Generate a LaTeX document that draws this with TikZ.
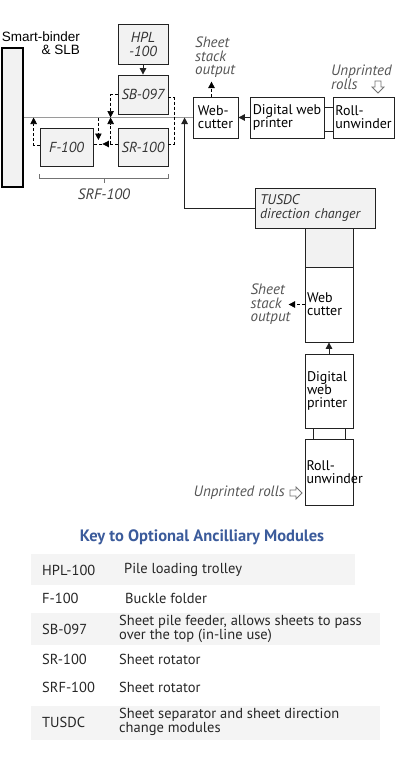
\documentclass[tikz,border=0pt]{standalone}
\usepackage{fontspec}
\setmainfont{PT Sans}
\newfontfamily\arialf{Liberation Sans}
\usepackage{tikz}
\usetikzlibrary{positioning,calc,arrows.meta}
\definecolor{boxc}{HTML}{F2F2F2}
\definecolor{linec}{HTML}{222222}
\definecolor{mainc}{HTML}{9A9A9A}
\definecolor{notec}{HTML}{555555}
\definecolor{bandc}{HTML}{F4F4F4}
\definecolor{keyc}{HTML}{3B5B9B}

\begin{document}
\begin{tikzpicture}[x=1pt, y=-1pt, font=\fontsize{14}{13}\selectfont,
  mod/.style={draw=linec, line width=0.8pt, inner sep=0pt, align=left},
  gmod/.style={mod, fill=boxc, font=\fontsize{14.5}{14}\selectfont\itshape, text=black!80},
  arr/.style={-{Triangle[length=6.5pt,width=6.5pt]}},
  dsh/.style={densely dashed, line width=0.7pt},
  note/.style={font=\fontsize{15}{13.5}\selectfont\itshape, text=notec, align=left, inner sep=0pt},
  openarr/.style={draw=black!55, fill=white, line width=0.8pt, line join=miter},
  keyt/.style={font=\fontsize{14.5}{14}\selectfont, text=black!85, align=left, inner sep=0pt}]
 \useasboundingbox (0,0) rectangle (404,760);
 % machine line
 \node[draw=black, fill=boxc, line width=1.6pt, minimum width=21, minimum height=139] (binder) at (12.5,117.5) {};
 \node[font=\arialf\fontsize{13.5}{12.5}\selectfont, align=right, anchor=north east, inner sep=0pt] (binderlab) at (80,32) {Smart-binder\\\& SLB};
 \node[gmod, minimum width=50, minimum height=40, align=center] (hpl) at (143,44) {HPL\\-100};
 \node[gmod, minimum width=50, minimum height=39] (sb) at (143,94.5) {SB-097};
 \node[gmod, minimum width=50, minimum height=38] (sr) at (143,147) {SR-100};
 \node[gmod, minimum width=53, minimum height=38] (f) at (66.5,147) {F-100};
 \node[mod, minimum width=45, minimum height=41] (wc1) at (215.5,117.5) {Web-\\cutter};
 \node[mod, minimum width=74, minimum height=41] (dwp1) at (287,117.5) {Digital web\\printer};
 \node[mod, minimum width=61, minimum height=41] (ru1) at (363.5,117.5) {Roll-\\unwinder};
 \draw[mainc, line width=1.4pt] (binder.east) -- (wc1.west);
 \draw[linec, line width=1pt, arr] (hpl.south) -- (sb.north);
 \draw[linec, line width=1pt, arr] (dwp1.west) -- (wc1.east);
 \draw[linec, line width=0.8pt] ([yshift=10.5pt]dwp1.east) -- ([yshift=10.5pt]ru1.west)
   ([yshift=-13.5pt]dwp1.east) -- ([yshift=-13.5pt]ru1.west);
 % optional modules, dashed paths
 \coordinate (srw) at ([yshift=3pt]sr.west);
 \draw[dsh, arr] (sb.west) -| ([xshift=-7pt]sb.west |- binder.east);
 \draw[dsh, arr] ([xshift=-7pt]srw) -- ([xshift=-7pt]srw |- binder.east);
 \draw[dsh, arr] (srw) -- ($(srw -| f.east)+(9,0)$);
 \draw[dsh] ($(srw -| f.east)+(9,0)$) -- (srw -| f.east);
 \draw[dsh, arr] ($(f.east |- binder.east)+(5,0)$) -- ($(f.east |- srw)+(5,-4)$);
 \draw[dsh, arr] ([yshift=2pt]f.west) -| ([xshift=-6pt]f.west |- binder.east);
 \draw[dsh] ([yshift=-2.5pt]sb.east) -- ++(5.5,0) |- (sr.east |- srw);
 \draw[black!55, line width=0.9pt] ($(f.south west)+(0,8)$) |- ($(sr.south east)+(0,12)$) -- ++(0,-4);
 \draw[black!55, line width=0.9pt] ($(f.south west)!0.5!(sr.south east)+(0,12)$) -- ++(0,5)
   node[note, below=5pt, text=black!75] (srflab) {SRF-100};
 % outputs and inputs
 \draw[dsh, arr] ([xshift=-4pt]wc1.north) -- ++(0,-15) coordinate (out1);
 \node[note, anchor=north west] (outlab1) at (195,37) {Sheet\\stack\\output};
 \node[note, anchor=north west] (rolllab1) at (331,65) {Unprinted\\rolls};
 \draw[openarr] (375,81) -- ++(6,0) -- ++(0,6) -- ++(3,0) -- ++(-6,6) -- ++(-6,-6) -- ++(3,0) -- cycle;
 % TUSDC branch
 \node[gmod, font=\fontsize{14}{14}\selectfont\itshape, minimum width=120, minimum height=40, text width=110] (tusdc) at (315,208) {TUSDC\\direction changer};
 \draw[linec, line width=1pt, arr] (tusdc.west) -| ([xshift=-8pt]wc1.west);
 \node[mod, fill=boxc, minimum width=48, minimum height=39] (sep) at (329,247.5) {};
 \node[mod, minimum width=48, minimum height=75, text width=44] (wc2) at (329,304.5) {Web\\cutter};
 \node[mod, minimum width=48, minimum height=74, text width=44] (dwp2) at (329,391) {Digital\\web\\printer};
 \node[mod, minimum width=48, minimum height=66, text width=45] (ru2) at (329,472) {Roll-\\unwinder};
 \draw[linec, line width=1pt, arr] (dwp2.north) -- (wc2.south);
 \draw[linec, line width=0.8pt] ([xshift=-16pt]dwp2.south) -- ([xshift=-16pt]ru2.north)
   ([xshift=16pt]dwp2.south) -- ([xshift=16pt]ru2.north);
 \draw[dsh, arr] (wc2.west) -- ++(-16,0) coordinate (out2);
 \node[note, anchor=east] (outlab2) at ($(out2)+(2,0)$) {Sheet\\stack\\output};
 \node[note, anchor=east] (rolllab2) at (285,493) {Unprinted rolls};
 \draw[openarr] ($(rolllab2.east)+(5,-3)$) -- ++(6,0) -- ++(0,-3) -- ++(6,6) -- ++(-6,6) -- ++(0,-3) -- ++(-6,0) -- cycle;
 % key
 \node[font=\fontsize{16.5}{16}\selectfont\bfseries, text=keyc] (keytitle) at (202,537) {Key to Optional Ancilliary Modules};
 \foreach \ya/\yb/\xb in {554/585/355, 613/645/380, 706/740/380}
   \fill[bandc] (31,\ya) rectangle (\xb,\yb);
 \foreach \kname/\kdesc/\yy/\xd [count=\i] in {HPL-100/Pile loading trolley/570/124,
   F-100/Buckle folder/598/125,
   SB-097/{Sheet pile feeder, allows sheets to pass\\over the top (in-line use)}/629/119,
   SR-100/Sheet rotator/659/119, SRF-100/Sheet rotator/687/119,
   TUSDC/{Sheet separator and sheet direction\\change modules}/722/119}{
   \node[keyt, anchor=west] (kn\i) at (42,\yy) {\kname};
   \node[keyt, anchor=west] (kd\i) at (\xd,\yy) {\kdesc};}
\end{tikzpicture}
\end{document}
